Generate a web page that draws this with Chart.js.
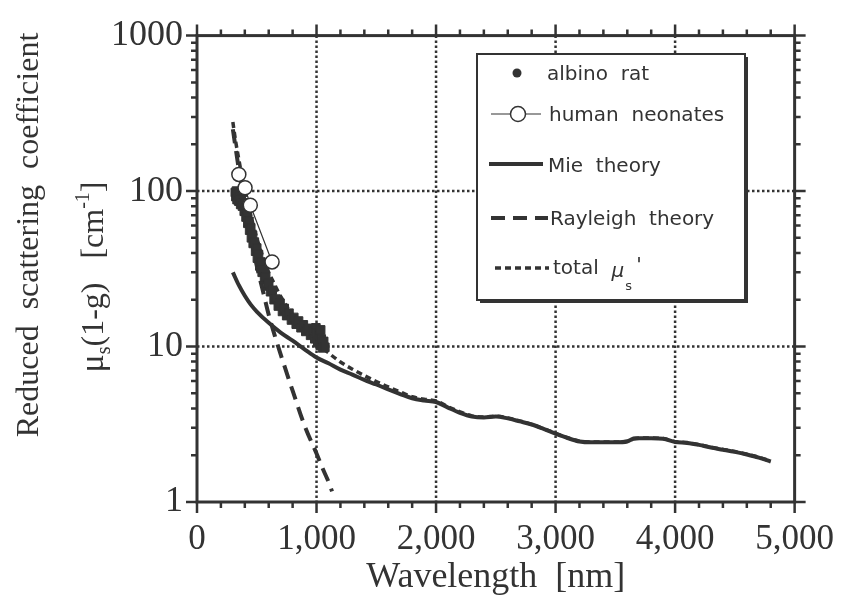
<!DOCTYPE html>
<html>
<head>
<meta charset="utf-8">
<script src="https://cdn.jsdelivr.net/npm/chart.js@4.4.1/dist/chart.umd.min.js"></script>
<style>
  html, body { margin: 0; padding: 0; background: #fff; }
</style>
</head>
<body>
<canvas id="scatterChart" width="851" height="595"></canvas>
<script>
// === DATA ===
// Mie theory (solid)
const mieNm = [300, 350, 400, 450, 500, 600, 700, 800, 900, 1000, 1100, 1200, 1300, 1400, 1500, 1600, 1700, 1800, 1900, 2000,
  2100, 2200, 2300, 2400, 2500, 2600, 2700, 2800, 2900, 3000, 3100, 3200, 3300, 3400, 3500, 3600, 3650, 3700, 3800, 3900,
  4000, 4100, 4200, 4300, 4400, 4500, 4600, 4700, 4800];
const mieVal = [30, 24.8, 21.2, 18.6, 16.8, 14.2, 12.3, 10.9, 9.6, 8.5, 7.8, 7.1, 6.6, 6.1, 5.7, 5.3, 4.95, 4.65, 4.5, 4.4,
  4.05, 3.75, 3.55, 3.5, 3.55, 3.45, 3.3, 3.15, 2.95, 2.75, 2.58, 2.45, 2.42, 2.42, 2.42, 2.45, 2.55, 2.57, 2.57, 2.55,
  2.43, 2.4, 2.33, 2.24, 2.17, 2.1, 2.02, 1.93, 1.82];

// Rayleigh theory (long dashes)
const rayleighNm = [300, 325, 350, 375, 400, 450, 500, 550, 600, 650, 700, 800, 900, 1000, 1050, 1100, 1130];
const rayleighVal = [250, 185, 138, 104, 80, 50, 33, 23, 16, 11.8, 8.9, 5.2, 3.1, 2.05, 1.65, 1.35, 1.17];

// total mu_s' (short dashes)
const totalNm = [300, 325, 350, 375, 400, 450, 500, 550, 600, 650, 700, 800, 900, 1000, 1100, 1200, 1300, 1400, 1500, 1600,
  1700, 1800, 1900, 2000, 2100, 2200, 2300, 2400, 2500, 2600, 2700, 2800, 2900, 3000, 3100, 3200, 3300, 3400, 3500, 3600,
  3650, 3700, 3800, 3900, 4000, 4100, 4200, 4300, 4400, 4500, 4600, 4700, 4800];
const totalVal = [278, 205, 160, 125, 102, 70, 50, 38, 30, 25, 21, 16, 12.7, 10.5, 9.1, 7.95, 7.15, 6.5, 5.95, 5.5,
  5.1, 4.75, 4.58, 4.47, 4.1, 3.8, 3.58, 3.52, 3.57, 3.47, 3.32, 3.16, 2.96, 2.76, 2.59, 2.46, 2.43, 2.43, 2.43, 2.46,
  2.56, 2.58, 2.58, 2.56, 2.44, 2.41, 2.34, 2.25, 2.18, 2.11, 2.03, 1.94, 1.83];

// albino rat measurements
const ratNm = [320, 325, 330, 335, 340, 350, 355, 365, 370, 380, 390, 395, 405, 410, 420, 425, 435, 440, 450, 455,
  465, 470, 480, 490, 500, 505, 515, 525, 535, 545, 555, 565, 575, 590, 600, 615, 630, 645, 660, 680,
  695, 715, 730, 750, 770, 790, 810, 830, 850, 870, 890, 910, 930, 950, 970, 985, 995, 1000, 1010, 1020,
  1030, 1035, 1040, 1050, 1060, 1070];
const ratVal = [98, 92, 100, 88, 95, 86, 92, 82, 88, 80, 84, 74, 78, 68, 72, 62, 64, 56, 58, 50,
  52, 46, 47, 41, 43, 37, 39, 33, 35, 30, 31, 27, 28, 24.5, 25.5, 22.5, 23, 20, 20.2, 18.2,
  19, 16.8, 17.6, 15.8, 16.4, 14.8, 15.4, 13.9, 14.6, 13.2, 13.8, 12.5, 13.1, 11.8, 12.6, 11.2, 13.2, 12.2, 10.6, 11.8,
  10.2, 12.8, 11.2, 9.8, 10.8, 9.9];

// human neonates
const neonateNm = [350, 402, 446, 628];
const neonateVal = [128, 105, 81, 35];

// axes
const xTicks = [0, 1000, 2000, 3000, 4000, 5000];
const yTicks = [1, 10, 100, 1000];
const xGrid = [1000, 2000, 3000, 4000];
const yGrid = [10, 100];

const ink = "#333";
const serif = "'Liberation Serif', 'Times New Roman', serif";
const sans = "'DejaVu Sans', sans-serif";

const toPoints = (xs, ys) => xs.map((x, i) => ({ x: x, y: ys[i] }));

// === DOTTED GRID, FRAME AND TICK MARKS ===
const axesPlugin = {
  id: "axesFrame",
  beforeDatasetsDraw(chart) {
    const { ctx, chartArea: a, scales: { x, y } } = chart;
    ctx.save();
    ctx.strokeStyle = ink;
    ctx.lineWidth = 2.5;
    ctx.setLineDash([2.5, 2.5]);
    ctx.beginPath();
    xGrid.forEach((v) => {
      const px = x.getPixelForValue(v);
      ctx.moveTo(px, a.top);
      ctx.lineTo(px, a.bottom);
    });
    yGrid.forEach((v) => {
      const py = y.getPixelForValue(v);
      ctx.moveTo(a.left, py);
      ctx.lineTo(a.right, py);
    });
    ctx.stroke();
    ctx.restore();
  },
  afterDatasetsDraw(chart) {
    const { ctx, chartArea: a, scales: { x, y } } = chart;
    const major = 11, minor = 6;
    ctx.save();
    ctx.strokeStyle = ink;
    ctx.lineWidth = 2.5;
    ctx.beginPath();
    // x ticks, every 200 nm, long ones at the labels
    for (let v = 0; v <= 5000; v += 200) {
      const px = x.getPixelForValue(v);
      const len = xTicks.includes(v) ? major : minor;
      ctx.moveTo(px, a.bottom);
      ctx.lineTo(px, a.bottom + len);
      ctx.moveTo(px, a.top);
      ctx.lineTo(px, a.top - len);
    }
    // y ticks, log decades with 2..9 minors
    yTicks.forEach((d) => {
      const py = y.getPixelForValue(d);
      ctx.moveTo(a.left, py);
      ctx.lineTo(a.left - major, py);
      ctx.moveTo(a.right, py);
      ctx.lineTo(a.right + major, py);
      if (d < 1000) {
        for (let m = 2; m <= 9; m++) {
          const pm = y.getPixelForValue(d * m);
          ctx.moveTo(a.left, pm);
          ctx.lineTo(a.left - minor, pm);
          ctx.moveTo(a.right, pm);
          ctx.lineTo(a.right + minor, pm);
        }
      }
    });
    ctx.stroke();
    ctx.lineWidth = 3;
    ctx.strokeRect(a.left, a.top, a.right - a.left, a.bottom - a.top);
    ctx.restore();
  },
};

// === LEGEND BOX ===
const legendPlugin = {
  id: "boxLegend",
  afterDatasetsDraw(chart) {
    const { ctx } = chart;
    const ds = chart.data.datasets;
    const L = 477, T = 54, W = 268, H = 246;
    ctx.save();
    ctx.fillStyle = ink;
    ctx.fillRect(L + 3, T + 3, W, H);
    ctx.fillStyle = "#fff";
    ctx.fillRect(L, T, W, H);
    ctx.strokeStyle = ink;
    ctx.lineWidth = 2;
    ctx.strokeRect(L, T, W, H);

    ctx.font = "20px " + sans;
    ctx.textBaseline = "middle";
    ctx.fillStyle = ink;

    // albino rat
    ctx.beginPath();
    ctx.arc(517, 73, 4.5, 0, Math.PI * 2);
    ctx.fill();
    ctx.fillText(ds[1].label, 547, 75);

    // human neonates
    ctx.lineWidth = 1.2;
    ctx.beginPath();
    ctx.moveTo(491, 114);
    ctx.lineTo(541, 114);
    ctx.stroke();
    ctx.beginPath();
    ctx.arc(518, 114, 7.5, 0, Math.PI * 2);
    ctx.fillStyle = "#fff";
    ctx.fill();
    ctx.lineWidth = 1.5;
    ctx.stroke();
    ctx.fillStyle = ink;
    ctx.fillText(ds[0].label, 549, 116);

    // line samples
    const sample = (d, x0, x1, yy) => {
      ctx.save();
      ctx.lineWidth = d.borderWidth;
      ctx.setLineDash(d.borderDash || []);
      ctx.beginPath();
      ctx.moveTo(x0, yy);
      ctx.lineTo(x1, yy);
      ctx.stroke();
      ctx.restore();
    };
    sample(ds[4], 489, 543, 164);
    ctx.fillText(ds[4].label, 548, 167);
    sample(ds[3], 491, 548, 218);
    ctx.fillText(ds[3].label, 550, 220);
    sample(ds[2], 495, 549, 268);
    ctx.fillText("total  ", 553, 269);
    let tx = 553 + ctx.measureText("total  ").width;
    ctx.font = "italic 20px " + sans;
    ctx.fillText("μ", tx, 272);
    tx += ctx.measureText("μ").width;
    ctx.font = "13px " + sans;
    ctx.fillText("s", tx + 1, 287);
    ctx.font = "20px " + sans;
    ctx.fillText("'", tx + 12, 266);
    ctx.restore();
  },
};

// === AXIS TITLES ===
const titlePlugin = {
  id: "axisTitles",
  afterDraw(chart) {
    const { ctx, scales: { x } } = chart;
    ctx.save();
    ctx.fillStyle = ink;
    ctx.textBaseline = "alphabetic";

    ctx.font = "36px " + serif;
    ctx.textAlign = "center";
    ctx.fillText("Wavelength  [nm]", (x.left + x.right) / 2, 587);

    // first line of the y title
    ctx.save();
    ctx.translate(38, 235);
    ctx.rotate(-Math.PI / 2);
    ctx.font = "32px " + serif;
    ctx.fillText("Reduced  scattering  coefficient", 0, 0);
    ctx.restore();

    // second line with sub/superscripts
    const parts = [
      { t: "μ", size: 34, dy: 0 },
      { t: "s", size: 20, dy: 7 },
      { t: "(1-g)   [cm", size: 32, dy: 0 },
      { t: "-1", size: 20, dy: -14 },
      { t: "]", size: 32, dy: 0 },
    ];
    ctx.save();
    ctx.translate(103, 277);
    ctx.rotate(-Math.PI / 2);
    ctx.textAlign = "left";
    let w = 0;
    parts.forEach((p) => {
      ctx.font = p.size + "px " + serif;
      p.w = ctx.measureText(p.t).width;
      w += p.w;
    });
    let cx = -w / 2;
    parts.forEach((p) => {
      ctx.font = p.size + "px " + serif;
      ctx.fillText(p.t, cx, p.dy);
      cx += p.w;
    });
    ctx.restore();
    ctx.restore();
  },
};

const ctx = document.getElementById("scatterChart").getContext("2d");
const scatterChart = new Chart(ctx, {
  type: "scatter",
  data: {
    datasets: [
      {
        label: "human  neonates",
        data: toPoints(neonateNm, neonateVal),
        showLine: true,
        borderColor: ink,
        borderWidth: 1.2,
        pointStyle: "circle",
        pointRadius: 7,
        pointBackgroundColor: "#fff",
        pointBorderColor: ink,
        pointBorderWidth: 1.5,
      },
      {
        label: "albino  rat",
        data: toPoints(ratNm, ratVal),
        showLine: false,
        pointStyle: "rect",
        pointRadius: 6,
        pointBackgroundColor: ink,
        pointBorderColor: ink,
        pointBorderWidth: 1,
      },
      {
        label: "total",
        data: toPoints(totalNm, totalVal),
        showLine: true,
        borderColor: ink,
        borderWidth: 3.5,
        borderDash: [6, 4],
        pointRadius: 0,
        cubicInterpolationMode: "monotone",
      },
      {
        label: "Rayleigh  theory",
        data: toPoints(rayleighNm, rayleighVal),
        showLine: true,
        borderColor: ink,
        borderWidth: 4,
        borderDash: [14, 8],
        pointRadius: 0,
        cubicInterpolationMode: "monotone",
      },
      {
        label: "Mie  theory",
        data: toPoints(mieNm, mieVal),
        showLine: true,
        borderColor: ink,
        borderWidth: 4,
        pointRadius: 0,
        cubicInterpolationMode: "monotone",
      },
    ],
  },
  options: {
    responsive: false,
    animation: false,
    devicePixelRatio: 1,
    layout: { padding: { top: 33, right: 48, left: 0, bottom: 0 } },
    plugins: { legend: { display: false }, tooltip: { enabled: false } },
    scales: {
      x: {
        type: "linear",
        min: 0,
        max: 5000,
        afterBuildTicks: (scale) => {
          scale.ticks = xTicks.map((v) => ({ value: v }));
        },
        afterFit: (scale) => {
          scale.height = 93;
        },
        grid: { display: false, drawTicks: false },
        border: { display: false },
        ticks: {
          autoSkip: false,
          maxRotation: 0,
          padding: 17,
          color: ink,
          font: { family: serif, size: 35 },
          callback: (v) => Number(v).toLocaleString("en-US"),
        },
      },
      y: {
        type: "logarithmic",
        min: 1,
        max: 1000,
        afterBuildTicks: (scale) => {
          scale.ticks = yTicks.map((v) => ({ value: v }));
        },
        afterFit: (scale) => {
          scale.width = 197;
        },
        grid: { display: false, drawTicks: false },
        border: { display: false },
        ticks: {
          autoSkip: false,
          padding: 14,
          color: ink,
          font: { family: serif, size: 36 },
          callback: (v) => String(v),
        },
      },
    },
  },
  plugins: [axesPlugin, legendPlugin, titlePlugin],
});
</script>
</body>
</html>
